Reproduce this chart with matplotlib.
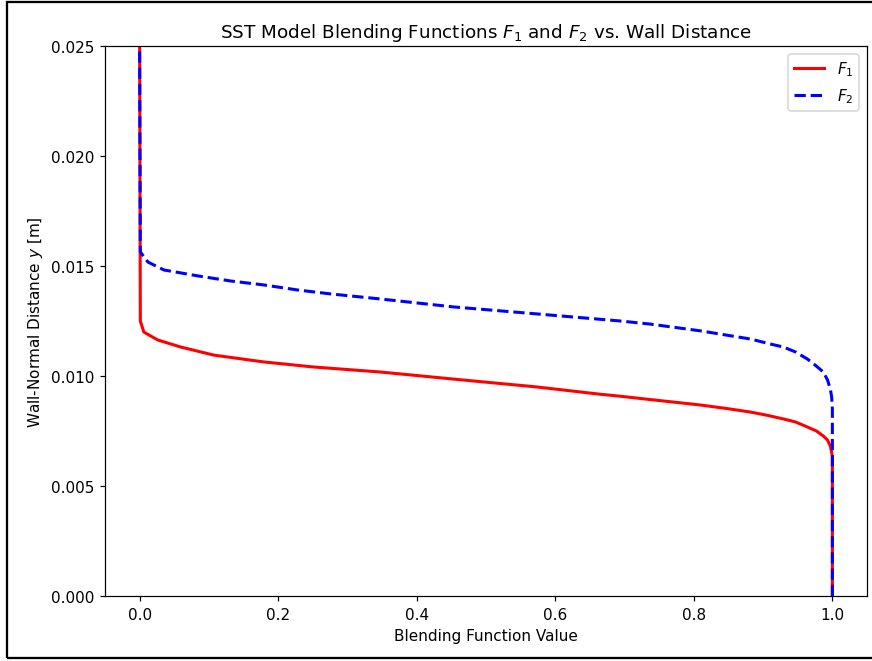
import numpy as np
import matplotlib
matplotlib.use("Agg")
import matplotlib.pyplot as plt
from matplotlib.patches import Rectangle

# values (y in m)
y_f1 = [0.0, 0.00636, 0.00682, 0.00709, 0.00727, 0.00750, 0.00768, 0.00791,
        0.00805, 0.00822, 0.00836, 0.00852, 0.00868, 0.00893, 0.00908, 0.00917,
        0.00950, 0.00986, 0.01018, 0.01041, 0.01064, 0.01095, 0.01132,
        0.01164, 0.01200, 0.0125, 0.025]
f1 = [1.0, 1.0, 0.997, 0.993, 0.987, 0.977, 0.964, 0.947,
      0.929, 0.905, 0.882, 0.848, 0.810, 0.737, 0.694, 0.665,
      0.574, 0.453, 0.348, 0.251, 0.179, 0.107, 0.059,
      0.026, 0.006, 0.001, 0.0]

y_f2 = [0.0, 0.0085, 0.00905, 0.00941, 0.00982, 0.01018, 0.01050, 0.01077,
        0.01109, 0.01132, 0.01145, 0.01168, 0.01205, 0.01236, 0.01250,
        0.01282, 0.01314, 0.01350, 0.01373, 0.01391, 0.01414, 0.01432,
        0.01455, 0.01482, 0.01518, 0.01564, 0.025]
f2 = [1.0, 1.0, 0.999, 0.997, 0.993, 0.987, 0.975, 0.964,
      0.947, 0.929, 0.911, 0.882, 0.810, 0.737, 0.694,
      0.574, 0.453, 0.348, 0.276, 0.228, 0.179, 0.131,
      0.084, 0.035, 0.012, 0.001, 0.0]

fig = plt.figure(figsize=(8.72/1.1, 6.62/1.1), dpi=110)
ax = fig.add_axes([105/872, 65/662, 762/872, 550/662])

ax.plot(f1, y_f1, 'r-', lw=2, label='$F_1$')
ax.plot(f2, y_f2, 'b--', lw=2, label='$F_2$')

ax.set_ylim(0, 0.025)
ax.set_xlabel('Blending Function Value')
ax.set_ylabel('Wall-Normal Distance $y$ [m]')
ax.set_title('SST Model Blending Functions $F_1$ and $F_2$ vs. Wall Distance')
ax.legend(loc='upper right')

# screenshot frame
fig.patches.append(Rectangle((7/872, 3/662), 870/872, 656/662, transform=fig.transFigure,
                             fill=False, edgecolor='black', lw=1.5))

fig.savefig('out.png', dpi=110)
